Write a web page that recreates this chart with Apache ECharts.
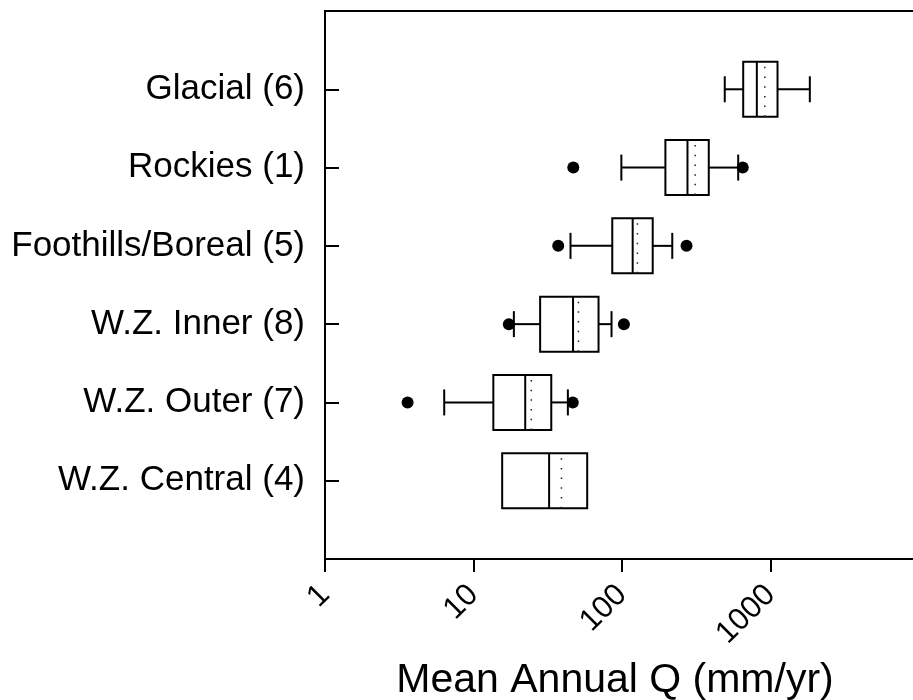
<!DOCTYPE html>
<html>
<head>
<meta charset="utf-8">
<script src="https://cdn.jsdelivr.net/npm/echarts@6/dist/echarts.min.js"></script>
<style>
html,body{margin:0;padding:0;background:#fff;}
#chart{width:913px;height:700px;}
</style>
</head>
<body>
<div id="chart"></div>
<script>
// Categories from top to bottom
var categories = ['Glacial (6)', 'Rockies (1)', 'Foothills/Boreal (5)', 'W.Z. Inner (8)', 'W.Z. Outer (7)', 'W.Z. Central (4)'];
var whiskerLow  = [492, 99, 45, 18.7, 6.35, null];
var q1          = [655, 196, 86, 28.1, 13.6, 15.6];
var median      = [809, 276, 118, 46.8, 22.3, 32.3];
var meanVal     = [916, 311, 127, 50.9, 24.5, 39.1];
var q3          = [1115, 384, 161, 69.5, 33.4, 58.3];
var whiskerHigh = [1840, 606, 218, 85, 43.2, null];
var outliers    = [[], [47, 650], [37.2, 272], [17.3, 103], [3.6, 46.6], []];
var xTickValues = [1, 10, 100, 1000];

var FONT = '"Liberation Sans", Arial, sans-serif';

function yPos(i) { return categories.length - i; }

var boxData = categories.map(function (c, i) { return [median[i], yPos(i), i]; });
var outlierData = [];
outliers.forEach(function (arr, i) {
  arr.forEach(function (v) { outlierData.push([v, yPos(i)]); });
});

var chart = echarts.init(document.getElementById('chart'), null, {renderer: 'canvas'});

var HALF = 27.5, CAP = 13, LW = 2;

chart.setOption({
  animation: false,
  backgroundColor: '#fff',
  grid: {
    left: 325, top: 11, right: -6, bottom: 141,
    show: true, borderColor: '#000', borderWidth: 2, backgroundColor: 'transparent',
    containLabel: false, outerBoundsMode: 'none'
  },
  xAxis: {
    type: 'log', logBase: 10, min: 1, max: 10000,
    name: 'Mean Annual Q (mm/yr)', nameLocation: 'middle', nameGap: 101,
    nameTextStyle: {fontFamily: FONT, fontSize: 41, color: '#000', padding: [0, 14, 0, 0]},
    axisLine: {show: true, lineStyle: {color: '#000', width: 2}},
    axisTick: {show: true, inside: false, length: 13, lineStyle: {color: '#000', width: 2}},
    minorTick: {show: false},
    splitLine: {show: false},
    axisLabel: {
      rotate: 45, margin: 31, fontFamily: FONT, fontSize: 31, color: '#000',
      formatter: function (v) { return xTickValues.indexOf(Math.round(v)) >= 0 ? String(Math.round(v)) : ''; }
    }
  },
  yAxis: {
    type: 'value', min: 0, max: 7, interval: 1,
    axisLine: {show: true, lineStyle: {color: '#000', width: 2}},
    axisTick: {show: true, inside: true, length: 14, lineStyle: {color: '#000', width: 2}},
    splitLine: {show: false},
    axisLabel: {
      margin: 20, fontFamily: FONT, fontSize: 35, color: '#000',
      formatter: function (v) {
        var i = categories.length - v;
        return (i >= 0 && i < categories.length) ? categories[i] : '';
      }
    }
  },
  series: [
    {
      type: 'custom',
      coordinateSystem: 'cartesian2d',
      encode: {x: 0, y: 1},
      data: boxData,
      renderItem: function (params, api) {
        var i = api.value(2);
        var y = yPos(i);
        var cy = api.coord([median[i], y])[1];
        var xq1 = api.coord([q1[i], y])[0];
        var xq3 = api.coord([q3[i], y])[0];
        var xmed = api.coord([median[i], y])[0];
        var xmean = api.coord([meanVal[i], y])[0];
        var children = [];
        var ls = {stroke: '#000', lineWidth: LW, fill: null};
        if (whiskerLow[i] != null) {
          var xl = api.coord([whiskerLow[i], y])[0];
          children.push({type: 'line', shape: {x1: xl, y1: cy, x2: xq1, y2: cy}, style: ls});
          children.push({type: 'line', shape: {x1: xl, y1: cy - CAP, x2: xl, y2: cy + CAP}, style: ls});
        }
        if (whiskerHigh[i] != null) {
          var xh = api.coord([whiskerHigh[i], y])[0];
          children.push({type: 'line', shape: {x1: xq3, y1: cy, x2: xh, y2: cy}, style: ls});
          children.push({type: 'line', shape: {x1: xh, y1: cy - CAP, x2: xh, y2: cy + CAP}, style: ls});
        }
        children.push({type: 'rect', shape: {x: xq1, y: cy - HALF, width: xq3 - xq1, height: 2 * HALF},
          style: {stroke: '#000', lineWidth: LW, fill: '#fff'}});
        children.push({type: 'line', shape: {x1: xmed, y1: cy - HALF, x2: xmed, y2: cy + HALF}, style: ls});
        children.push({type: 'line', shape: {x1: xmean, y1: cy - HALF + 5, x2: xmean, y2: cy + HALF},
          style: {stroke: '#222', lineWidth: 1.5, lineDash: [1.5, 8.2], fill: null}});
        return {type: 'group', children: children};
      },
      z: 2
    },
    {
      type: 'scatter',
      data: outlierData,
      symbol: 'circle',
      symbolSize: 12,
      itemStyle: {color: '#000', opacity: 1},
      z: 3
    }
  ]
});
</script>
</body>
</html>
